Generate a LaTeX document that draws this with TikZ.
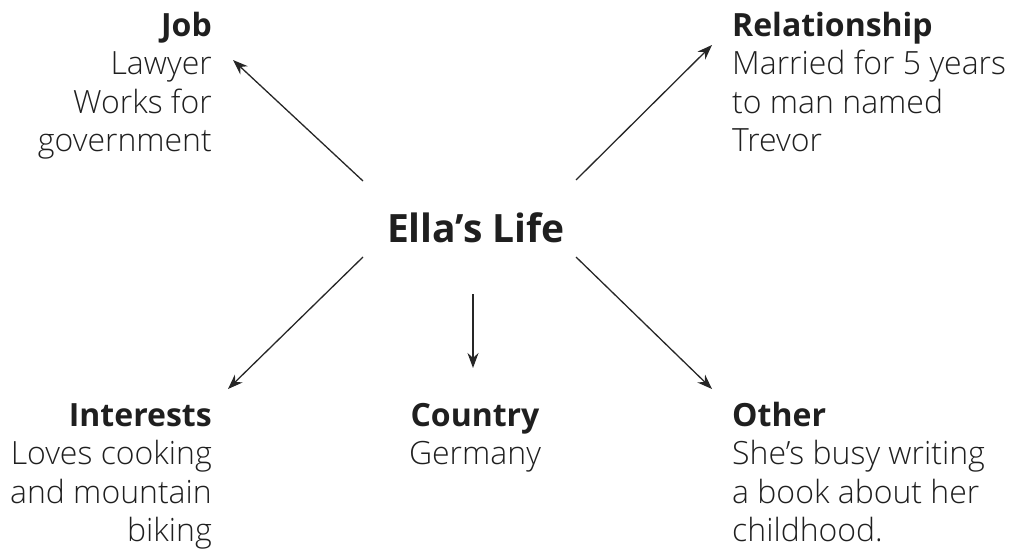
\documentclass[tikz,border=0pt]{standalone}
\usepackage{fontspec}
\setmainfont{Open Sans Light}[BoldFont={Open Sans Bold}]
\usetikzlibrary{arrows.meta}
\begin{document}
\begin{tikzpicture}[x=1pt,y=-1pt,
  lbl/.style={inner sep=0pt,font=\fontsize{32}{38.5}\selectfont,text=black!88},
  conn/.style={line width=1.3pt,black!85,-{Stealth[length=15pt,width=11pt]}}]
\useasboundingbox (0,0) rectangle (1011,549);
\node[inner sep=0pt,anchor=base,font=\fontsize{39}{44}\selectfont\bfseries,text=black!88] (center) at (476,242) {Ella’s Life};
\node[lbl,align=right,anchor=base east] (job) at (212,151.5) {\textbf{Job}\\Lawyer\\Works for\\government};
\node[lbl,align=left,anchor=base west] (rel) at (732,151.5) {\textbf{Relationship}\\Married for 5 years\\to man named\\Trevor};
\node[lbl,align=right,anchor=base east] (int) at (212,541.5) {\textbf{Interests}\\Loves cooking\\and mountain\\biking};
\node[lbl,align=center,anchor=base] (cty) at (475,464.5) {\textbf{Country}\\Germany};
\node[lbl,align=left,anchor=base west] (oth) at (732,541.5) {\textbf{Other}\\She’s busy writing\\a book about her\\childhood.};
\coordinate (s1) at (363,181); \coordinate (e1) at (233,60);
\coordinate (s2) at (576,180); \coordinate (e2) at (712,45);
\coordinate (s3) at (363,257); \coordinate (e3) at (228,389);
\coordinate (s4) at (473,294); \coordinate (e4) at (473,368);
\coordinate (s5) at (576,257); \coordinate (e5) at (712,389);
\draw[conn] (s1) -- (e1);
\draw[conn] (s2) -- (e2);
\draw[conn] (s3) -- (e3);
\draw[conn] (s4) -- (e4);
\draw[conn] (s5) -- (e5);
\end{tikzpicture}
\end{document}
